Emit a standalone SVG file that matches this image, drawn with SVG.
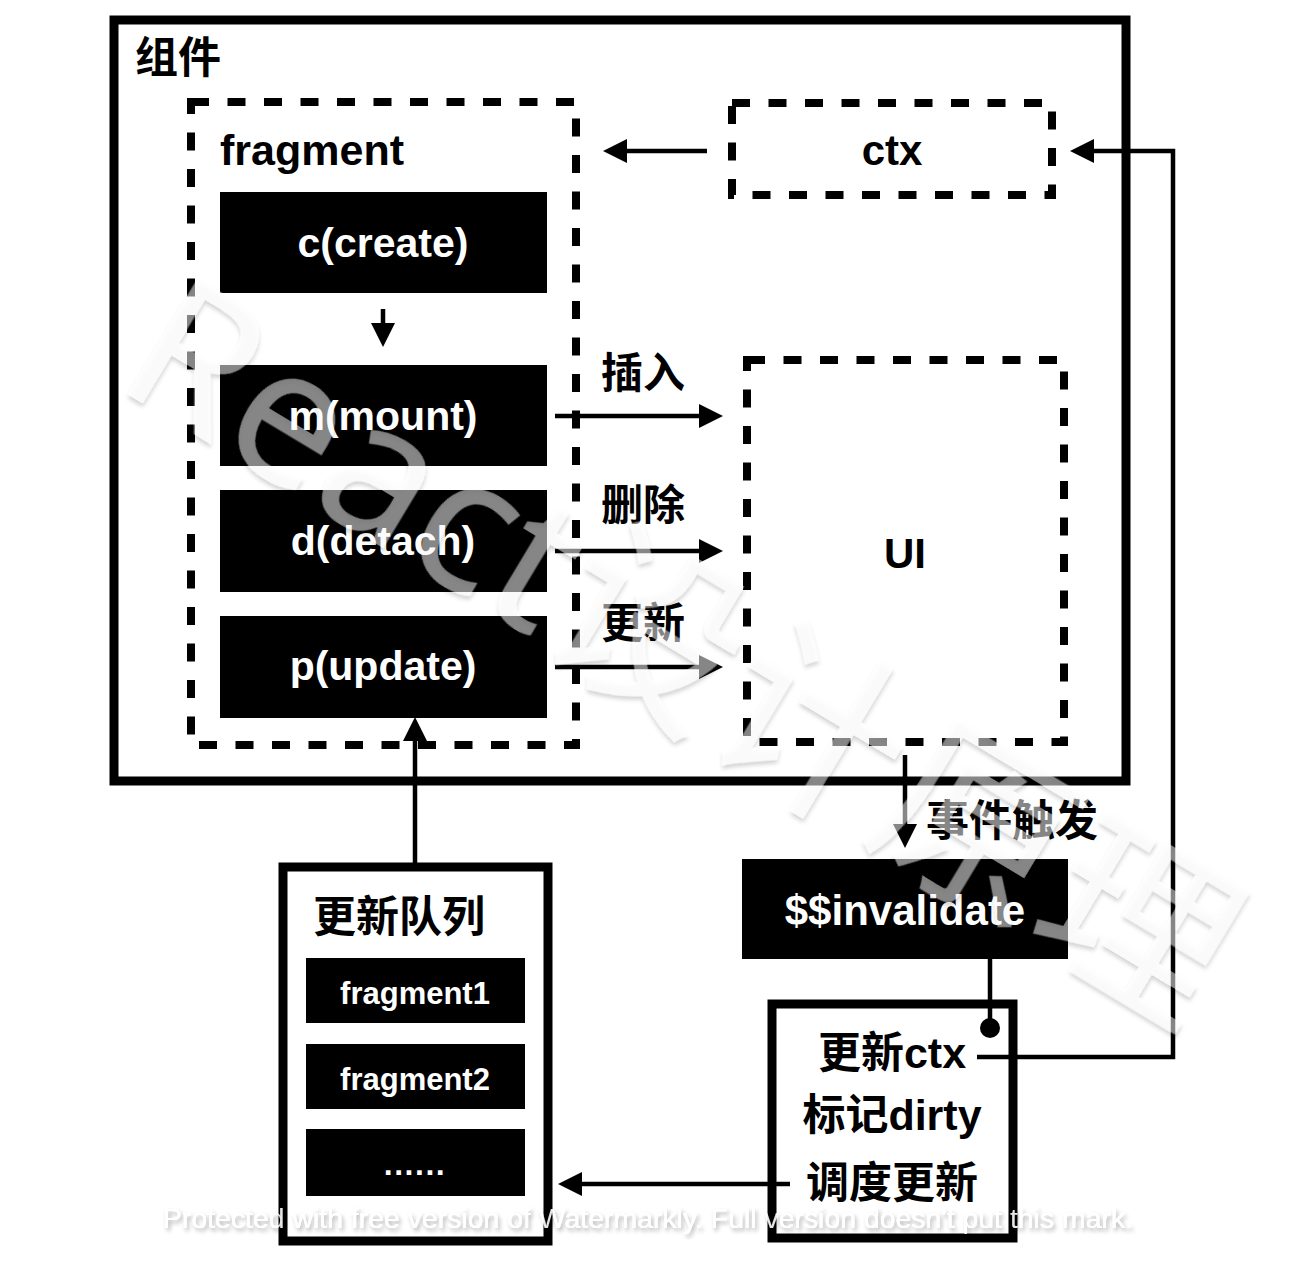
<svg xmlns="http://www.w3.org/2000/svg" width="1296" height="1265" viewBox="0 0 1296 1265">
<style>
  .t { font-family: "Liberation Sans", "Noto Sans CJK SC", sans-serif; font-weight: bold; }
  .w { fill: #ffffff; }
  .k { fill: #000000; }
  .mid { text-anchor: middle; }
  .solid { fill: none; stroke: #000; stroke-width: 9; }
  .dash { fill: none; stroke: #000; stroke-width: 8; stroke-dasharray: 18 18.5; }
  .blk { fill: #000; }
  .ln { fill: none; stroke: #000; stroke-width: 4.5; }
  .arr { marker-end: url(#ah); }
  .wm { font-family: "Noto Sans", "Noto Sans CJK SC", sans-serif; font-weight: normal; fill: #ffffff; }
</style>
<defs>
  <marker id="ah" viewBox="0 0 24 24" refX="2" refY="12" markerWidth="24" markerHeight="24" markerUnits="userSpaceOnUse" orient="auto">
    <path d="M0,0 L24,12 L0,24 z" fill="#000"/>
  </marker>
  <filter id="shadow" x="-5%" y="-20%" width="110%" height="140%">
    <feGaussianBlur in="SourceAlpha" stdDeviation="2"/>
    <feOffset dx="2" dy="3" result="b"/>
    <feComposite in="b" in2="SourceAlpha" operator="out" result="s"/>
    <feFlood flood-color="#000" flood-opacity="0.35"/>
    <feComposite in2="s" operator="in" result="sh"/>
    <feMerge><feMergeNode in="sh"/><feMergeNode in="SourceGraphic"/></feMerge>
  </filter>
</defs>
<rect width="1296" height="1265" fill="#fff"/>

<g id="component">
  <rect class="solid" x="114" y="20" width="1012" height="761"/>
  <text class="t k" x="135" y="73" font-size="43">组件</text>
</g>

<g id="fragment">
  <rect class="dash" x="191" y="102" width="385" height="643"/>
  <text class="t k" x="220" y="165" font-size="43">fragment</text>
</g>

<g id="create">
  <rect class="blk" x="220" y="192" width="327" height="101"/>
  <text class="t w mid" x="383" y="257" font-size="41">c(create)</text>
</g>
<g id="mount">
  <rect class="blk" x="220" y="365" width="327" height="101"/>
  <text class="t w mid" x="383" y="430" font-size="41">m(mount)</text>
</g>
<g id="detach">
  <rect class="blk" x="220" y="490" width="327" height="102"/>
  <text class="t w mid" x="383" y="555" font-size="41">d(detach)</text>
</g>
<g id="update">
  <rect class="blk" x="220" y="616" width="327" height="102"/>
  <text class="t w mid" x="383" y="680" font-size="41">p(update)</text>
</g>

<g id="ctx">
  <rect class="dash" x="732" y="103" width="320" height="92"/>
  <text class="t k mid" x="892" y="165" font-size="42">ctx</text>
</g>

<g id="ui">
  <rect class="dash" x="747" y="360" width="317" height="382"/>
  <text class="t k mid" x="905" y="568" font-size="42">UI</text>
</g>

<g id="invalidate">
  <rect class="blk" x="742" y="859" width="326" height="100"/>
  <text class="t w mid" x="905" y="925" font-size="42">$$invalidate</text>
</g>

<g id="schedule">
  <rect class="solid" x="772" y="1004" width="241" height="234"/>
  <text class="t k mid" x="892" y="1068" font-size="43">更新ctx</text>
  <text class="t k mid" x="892" y="1130" font-size="43">标记dirty</text>
  <text class="t k mid" x="892" y="1198" font-size="43">调度更新</text>
</g>

<g id="queue">
  <rect class="solid" x="283" y="867" width="265" height="374"/>
  <text class="t k" x="313" y="932" font-size="43">更新队列</text>
  <rect class="blk" x="306" y="958" width="219" height="65"/>
  <text class="t w mid" x="415" y="1004" font-size="31">fragment1</text>
  <rect class="blk" x="306" y="1044" width="219" height="65"/>
  <text class="t w mid" x="415" y="1090" font-size="31">fragment2</text>
  <rect class="blk" x="306" y="1129" width="219" height="67"/>
  <text class="t w mid" x="415" y="1175" font-size="32" letter-spacing="1.5">......</text>
</g>

<g id="connectors">
  <line class="ln arr" x1="383" y1="309" x2="383" y2="325"/>
  <line class="ln arr" x1="555" y1="416" x2="701" y2="416"/>
  <line class="ln arr" x1="555" y1="551" x2="701" y2="551"/>
  <line class="ln arr" x1="555" y1="667" x2="701" y2="667"/>
  <line class="ln arr" x1="707" y1="151" x2="625" y2="151"/>
  <polyline class="ln arr" points="977,1057 1173,1057 1173,151 1092,151"/>
  <line class="ln arr" x1="905" y1="755" x2="905" y2="826"/>
  <line class="ln arr" x1="415" y1="863" x2="415" y2="739"/>
  <line class="ln arr" x1="790" y1="1184" x2="580" y2="1184"/>
  <line class="ln" x1="990" y1="959" x2="990" y2="1028"/>
  <circle cx="990" cy="1028" r="10" fill="#000"/>
  <text class="t k" x="601" y="388" font-size="42">插入</text>
  <text class="t k" x="601" y="520" font-size="42">删除</text>
  <text class="t k" x="601" y="638" font-size="42">更新</text>
  <text class="t k" x="926" y="836" font-size="43">事件触发</text>
</g>

<g id="watermark">
  <text class="wm" x="112" y="385" font-size="190" fill-opacity="0.5" filter="url(#shadow)" transform="rotate(31 112 385)">React设计原理</text>
  <text x="163" y="1228" font-size="27" textLength="970" lengthAdjust="spacingAndGlyphs" fill="#fff" fill-opacity="0.9" filter="url(#shadow)" font-family="Liberation Sans, sans-serif">Protected with free version of Watermarkly. Full version doesn't put this mark.</text>
</g>
</svg>
